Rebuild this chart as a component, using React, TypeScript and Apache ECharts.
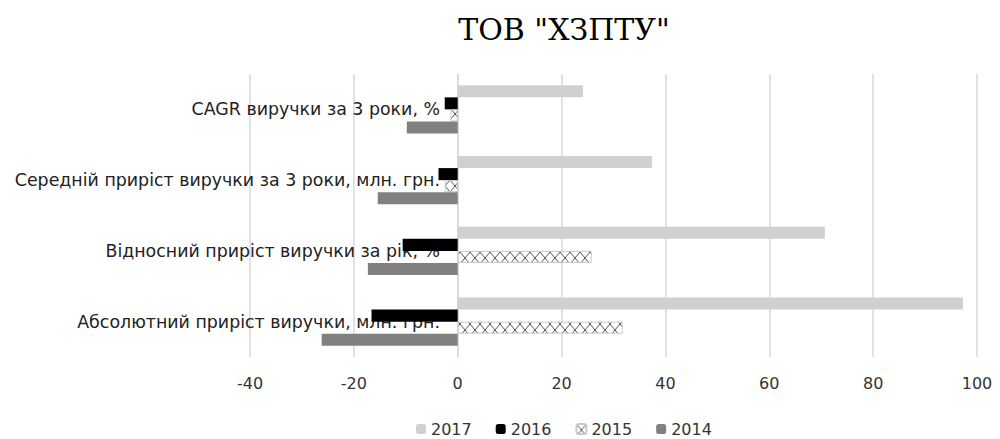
import React, { useEffect, useRef } from "react";
import * as echarts from "echarts";

const categories = [
  "Абсолютний приріст виручки, млн. грн.",
  "Відносний приріст виручки за рік, %",
  "Середній приріст виручки за 3 роки, млн. грн.",
  "CAGR виручки за 3 роки, %",
];
const years = ["2017", "2016", "2015", "2014"];
const v2017 = [97.3, 70.7, 37.4, 24.1];
const v2016 = [-16.6, -10.6, -3.7, -2.5];
const v2015 = [31.8, 25.8, -2.5, -1.4];
const v2014 = [-26.2, -17.3, -15.4, -9.8];
const xTicks = { min: -40, max: 100, interval: 20 };

function makePattern(): HTMLCanvasElement {
  const c = document.createElement("canvas");
  c.width = 10;
  c.height = 12;
  const ctx = c.getContext("2d")!;
  ctx.fillStyle = "#ffffff";
  ctx.fillRect(0, 0, 10, 12);
  ctx.strokeStyle = "#444444";
  ctx.lineWidth = 0.9;
  ctx.beginPath();
  ctx.moveTo(0, 0);
  ctx.lineTo(10, 12);
  ctx.moveTo(0, 12);
  ctx.lineTo(10, 0);
  ctx.stroke();
  return c;
}

export default function App() {
  const ref = useRef<HTMLDivElement>(null);
  useEffect(() => {
    const chart = echarts.init(ref.current!, null, { renderer: "svg" });
    const pattern = makePattern();
    const font = "DejaVu Sans";
    const seriesDefs = [
      { name: "2017", data: v2017, color: "#d0d0d0" },
      { name: "2016", data: v2016, color: "#000000" },
      { name: "2015", data: v2015, color: { image: pattern, repeat: "repeat" }, border: "#c8c8c8" },
      { name: "2014", data: v2014, color: "#808080" },
    ];
    chart.setOption({
      animation: false,
      title: {
        text: 'ТОВ "ХЗПТУ"',
        left: 559,
        textAlign: "center",
        top: 9,
        textStyle: { fontFamily: "DejaVu Serif", fontSize: 30, fontWeight: "normal", color: "#000" },
      },
      legend: {
        data: years,
        top: 421,
        left: 416,
        padding: 0,
        itemWidth: 10,
        itemHeight: 10,
        itemGap: 24,
        textStyle: { fontFamily: font, fontSize: 16, color: "#333" },
      },
      grid: { left: 250, right: 23, top: 74, bottom: 82, containLabel: false, outerBoundsMode: "none" },
      xAxis: {
        type: "value",
        min: xTicks.min,
        max: xTicks.max,
        interval: xTicks.interval,
        axisLine: { show: false },
        axisTick: { show: false },
        splitLine: { lineStyle: { color: "#d9d9d9", width: 1.5 } },
        axisLabel: { fontFamily: font, fontSize: 16, color: "#333", margin: 18 },
      },
      yAxis: {
        type: "category",
        data: categories,
        offset: -208,
        axisLine: { show: true, onZero: false, lineStyle: { color: "#d9d9d9", width: 1.5 } },
        axisTick: { show: false },
        axisLabel: { fontFamily: font, fontSize: 17.4, color: "#222", margin: 18 },
      },
      series: seriesDefs.map((s) => ({
        type: "bar",
        name: s.name,
        data: s.data,
        barGap: "0%",
        barCategoryGap: "32%",
        itemStyle: {
          color: s.color,
          borderColor: s.border || undefined,
          borderWidth: s.border ? 1 : 0,
        },
      })),
    });
    return () => chart.dispose();
  }, []);
  return (
    <div
      ref={ref}
      style={{ position: "fixed", left: 0, top: 0, width: 1000, height: 439, background: "#fff" }}
    />
  );
}
